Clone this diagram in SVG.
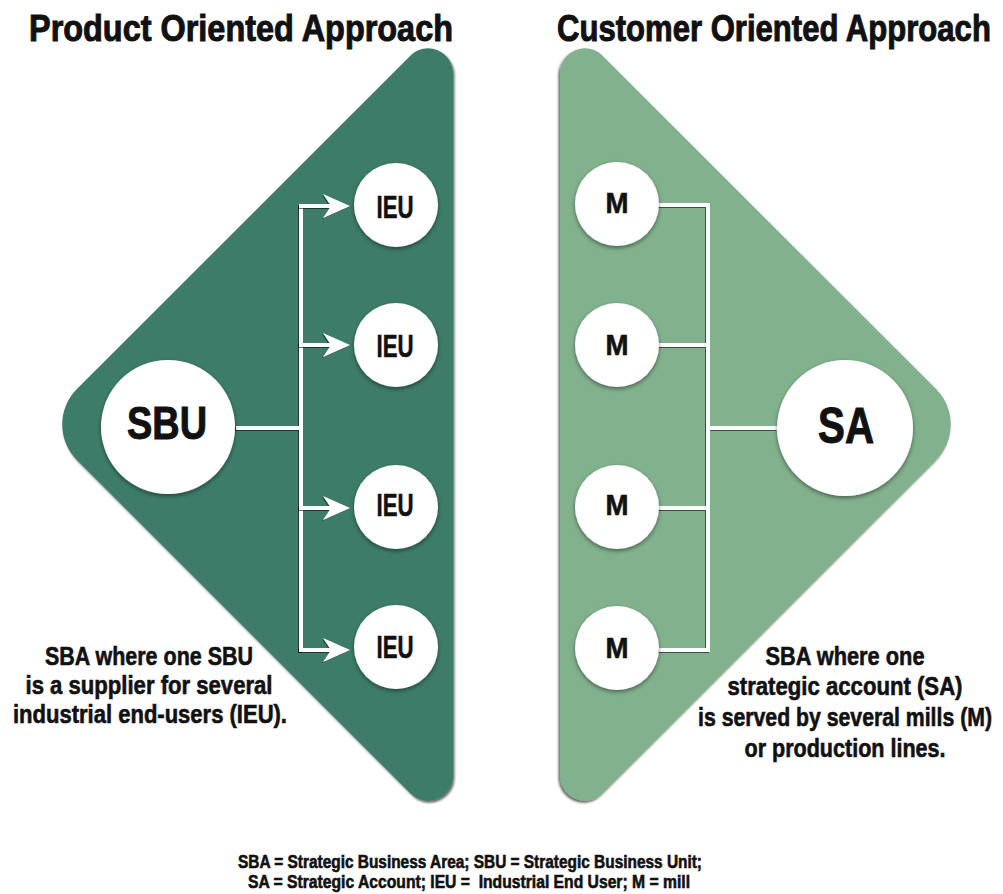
<svg xmlns="http://www.w3.org/2000/svg" width="1003" height="894" viewBox="0 0 1003 894">
<defs>
<style>
.t{font-family:"Liberation Sans",Arial,sans-serif;font-weight:bold;fill:#111;stroke:#111;stroke-width:0.6;}
.c{text-anchor:middle;}
.big{stroke-width:1;}
.node{fill:#fff;filter:url(#csh);}
.wire{fill:none;stroke:#fff;stroke-width:4;filter:url(#wsh);}
.head{fill:#fff;}
</style>
<filter id="lsh" x="-10%" y="-10%" width="120%" height="120%"><feDropShadow dx="1.5" dy="2" stdDeviation="1.2" flood-color="#000" flood-opacity="0.6"/></filter>
<filter id="rsh" x="-10%" y="-10%" width="120%" height="120%"><feDropShadow dx="-1.5" dy="2" stdDeviation="1.2" flood-color="#000" flood-opacity="0.6"/></filter>
<filter id="csh" x="-20%" y="-20%" width="140%" height="140%"><feDropShadow dx="0" dy="2" stdDeviation="2" flood-color="#000" flood-opacity="0.45"/></filter>
<filter id="wsh" filterUnits="userSpaceOnUse" x="0" y="0" width="1003" height="894"><feDropShadow dx="-1" dy="1" stdDeviation="0.7" flood-color="#000" flood-opacity="0.55"/></filter>
<marker id="arr" markerUnits="userSpaceOnUse" viewBox="-28 -14 30 28" markerWidth="30" markerHeight="28" refX="-16" refY="0" orient="auto">
<path class="head" d="M0,0 L-27,-12 L-19,0 L-27,12 Z"/>
</marker>
</defs>
<rect width="1003" height="894" fill="#fff"/>

<g id="titles">
<text class="t big" x="29" y="41" font-size="37" textLength="424" lengthAdjust="spacingAndGlyphs">Product Oriented Approach</text>
<text class="t big" transform="translate(557,41) scale(0.84,1)" x="0" y="0" font-size="37">Customer Oriented Approach</text>
</g>

<g id="product-area">
<path filter="url(#lsh)" fill="#3d7b67" d="M410.3,55.7 A25,25 0 0 1 453,73.4 L453,775.6 A25,25 0 0 1 410.3,793.3 L76.9,459.9 A50,50 0 0 1 76.9,389.1 Z"/>
</g>
<g id="customer-area">
<path filter="url(#rsh)" fill="#82b18d" d="M602.7,55.7 A25,25 0 0 0 560,73.4 L560,775.6 A25,25 0 0 0 602.7,793.3 L936.1,459.9 A50,50 0 0 0 936.1,389.1 Z"/>
</g>

<g id="connectors">
<path class="wire" d="M236,428 H301 M301,204 V652"/>
<path class="wire" d="M299,206 H334" marker-end="url(#arr)"/>
<path class="wire" d="M299,345 H334" marker-end="url(#arr)"/>
<path class="wire" d="M299,508 H334" marker-end="url(#arr)"/>
<path class="wire" d="M299,650 H334" marker-end="url(#arr)"/>
<path class="wire" d="M659,205 H708 M659,345 H708 M659,508 H708 M659,650 H708 M708,203 V652 M708,428 H777"/>
</g>

<g id="sbu"><circle class="node" cx="168" cy="427" r="67"/><text class="t c big" x="167" y="439" font-size="46" textLength="80" lengthAdjust="spacingAndGlyphs">SBU</text></g>
<g id="sa"><circle class="node" cx="845" cy="428" r="68"/><text class="t c big" x="846" y="443" font-size="50" textLength="56" lengthAdjust="spacingAndGlyphs">SA</text></g>

<g id="ieu1"><circle class="node" cx="396" cy="205" r="42"/><text class="t c" x="395" y="218" font-size="32" textLength="37" lengthAdjust="spacingAndGlyphs">IEU</text></g>
<g id="ieu2"><circle class="node" cx="396" cy="345" r="42"/><text class="t c" x="395" y="357" font-size="32" textLength="37" lengthAdjust="spacingAndGlyphs">IEU</text></g>
<g id="ieu3"><circle class="node" cx="396" cy="507" r="42"/><text class="t c" x="395" y="516" font-size="32" textLength="37" lengthAdjust="spacingAndGlyphs">IEU</text></g>
<g id="ieu4"><circle class="node" cx="396" cy="647" r="42"/><text class="t c" x="395" y="658" font-size="32" textLength="37" lengthAdjust="spacingAndGlyphs">IEU</text></g>

<g id="m1"><circle class="node" cx="617" cy="204" r="42"/><text class="t c" x="617" y="213" font-size="29" textLength="23" lengthAdjust="spacingAndGlyphs">M</text></g>
<g id="m2"><circle class="node" cx="617" cy="345" r="42"/><text class="t c" x="617" y="355" font-size="29" textLength="23" lengthAdjust="spacingAndGlyphs">M</text></g>
<g id="m3"><circle class="node" cx="617" cy="507" r="42"/><text class="t c" x="617" y="515" font-size="29" textLength="23" lengthAdjust="spacingAndGlyphs">M</text></g>
<g id="m4"><circle class="node" cx="617" cy="648" r="42"/><text class="t c" x="617" y="658" font-size="29" textLength="23" lengthAdjust="spacingAndGlyphs">M</text></g>

<g id="left-note">
<text class="t c" x="149" y="665" font-size="25" textLength="208" lengthAdjust="spacingAndGlyphs">SBA where one SBU</text>
<text class="t c" x="149" y="694" font-size="25" textLength="247" lengthAdjust="spacingAndGlyphs">is a supplier for several</text>
<text class="t c" x="150" y="723" font-size="25" textLength="274" lengthAdjust="spacingAndGlyphs">industrial end-users (IEU).</text>
</g>
<g id="right-note">
<text class="t c" x="845" y="665" font-size="25" textLength="159" lengthAdjust="spacingAndGlyphs">SBA where one</text>
<text class="t c" x="845" y="695" font-size="25" textLength="235" lengthAdjust="spacingAndGlyphs">strategic account (SA)</text>
<text class="t c" transform="translate(845,726) scale(0.85,1)" x="0" y="0" font-size="25">is served by several mills (M)</text>
<text class="t c" x="845" y="757" font-size="25" textLength="201" lengthAdjust="spacingAndGlyphs">or production lines.</text>
</g>
<g id="legend">
<text class="t c" x="470" y="868" font-size="18" textLength="464" lengthAdjust="spacingAndGlyphs">SBA = Strategic Business Area; SBU = Strategic Business Unit;</text>
<text class="t c" x="469" y="888" font-size="18" textLength="442" lengthAdjust="spacingAndGlyphs" xml:space="preserve">SA = Strategic Account; IEU =  Industrial End User; M = mill</text>
</g>
</svg>
